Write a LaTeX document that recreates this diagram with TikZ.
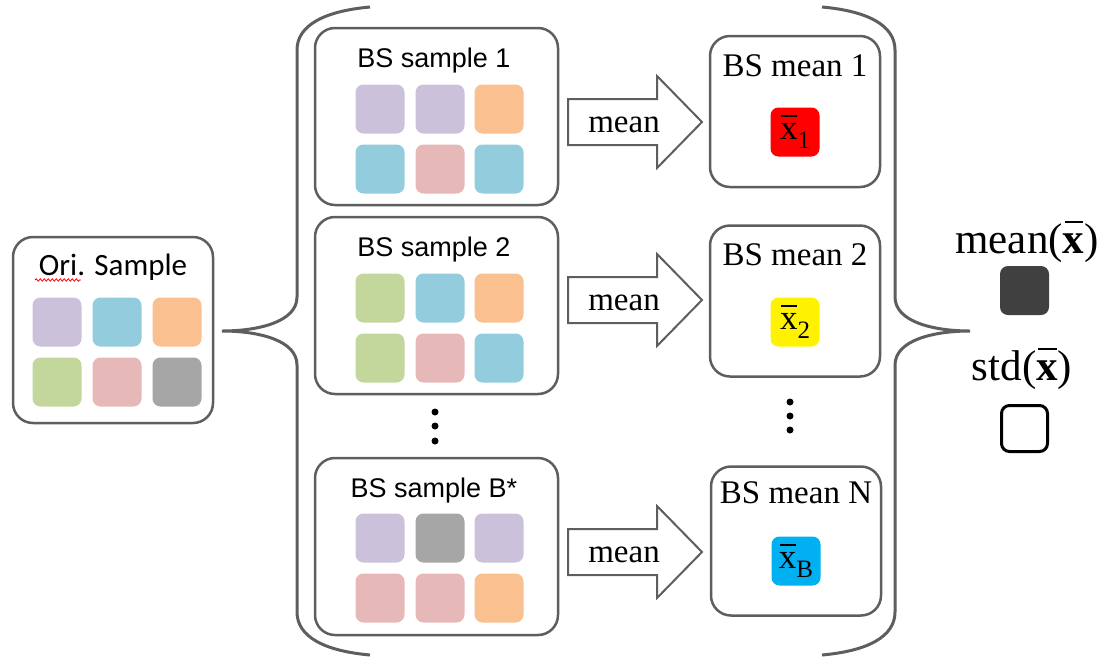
\documentclass[tikz,border=0pt]{standalone}
\usepackage{fontspec}
\setmainfont{Liberation Serif}
\newfontfamily\arialf{Liberation Sans}
\newfontfamily\calibrif{Carlito}
\usetikzlibrary{decorations.pathmorphing}

\definecolor{framegray}{HTML}{5E5E5E}
\definecolor{cpurple}{HTML}{CCC1DA}
\definecolor{caqua}{HTML}{93CDDD}
\definecolor{corange}{HTML}{FAC090}
\definecolor{cgreen}{HTML}{C3D69B}
\definecolor{cpink}{HTML}{E6B9B8}
\definecolor{cgray}{HTML}{A6A6A6}
\definecolor{cdark}{HTML}{404040}
\definecolor{cblue}{HTML}{00B0F0}

% bar-x with a subscript, set in the serif text font
\newcommand\xbarsub[1]{\makebox[0pt][l]{\hspace{0.03em}\raisebox{0.66em}{\rule{0.45em}{1.5pt}}}x\raisebox{-9pt}{\fontsize{25}{25}\selectfont #1}}
\newcommand\xbarbold{\makebox[0pt][l]{\hspace{0.04em}\raisebox{0.7em}{\rule{0.44em}{2pt}}}\textbf{x}}

\tikzset{
  frame/.style={draw=framegray, line width=2.5pt, rounded corners=20pt, fill=white},
  cell/.style={rounded corners=8pt, minimum size=49pt, inner sep=0pt},
  meancell/.style={rounded corners=8pt, minimum size=49pt, inner sep=0pt,
                   font=\fontsize{35}{37}\selectfont},
  brace/.style={draw=framegray, line width=3pt},
  fatarrow/.style={draw=framegray, line width=2pt, fill=white},
  sampletitle/.style={anchor=base, inner sep=0pt, font=\arialf\fontsize{27}{30}\selectfont},
  meantitle/.style={anchor=base, inner sep=0pt, font=\fontsize{33}{36}\selectfont},
  label/.style={anchor=base, inner sep=0pt, font=\fontsize{43}{46}\selectfont},
  dot/.style={circle, fill=black, inner sep=0pt, minimum size=7pt},
}

\begin{document}
\begin{tikzpicture}[x=1pt, y=-1pt]
\useasboundingbox (0,0) rectangle (1111,657);

% ---------- original sample ----------
\node[frame, minimum width=200pt, minimum height=186pt] (ori) at (113,330) {};
\node[anchor=base, inner sep=0pt, font=\calibrif\fontsize{31}{34}\selectfont] (orititle) at (113,275) {Ori. Sample};
\draw[red, line width=0.8pt, decorate, decoration={snake, amplitude=1.2pt, segment length=4pt}]
  (35,280) -- (81,280);
\node[cell, fill=cpurple] (o11) at (57,322) {};
\node[cell, fill=caqua]   (o12) at (117,322) {};
\node[cell, fill=corange] (o13) at (177,322) {};
\node[cell, fill=cgreen]  (o21) at (57,382) {};
\node[cell, fill=cpink]   (o22) at (117,382) {};
\node[cell, fill=cgray]   (o23) at (177,382) {};

% ---------- left brace ----------
\coordinate (ltip) at (222,331);
\draw[brace] (370,7) .. controls (325,11) and (297,25) .. (297,50)
  -- (297,297) .. controls (297,322) and (258,331) .. (ltip)
  .. controls (258,331) and (297,340) .. (297,365)
  -- (297,612) .. controls (297,637) and (325,651) .. (370,655);

% ---------- bootstrap samples ----------
\node[frame, minimum width=243pt, minimum height=177pt] (s1) at (436.5,116.5) {};
\node[sampletitle] (s1t) at (434,67) {BS sample 1};
\node[cell, fill=cpurple] (s1a) at (380,109) {};
\node[cell, fill=cpurple] (s1b) at (440,109) {};
\node[cell, fill=corange] (s1c) at (499,109) {};
\node[cell, fill=caqua]   (s1d) at (380,169) {};
\node[cell, fill=cpink]   (s1e) at (440,169) {};
\node[cell, fill=caqua]   (s1f) at (499,169) {};

\node[frame, minimum width=243pt, minimum height=177pt] (s2) at (436.5,305.5) {};
\node[sampletitle] (s2t) at (434,256) {BS sample 2};
\node[cell, fill=cgreen]  (s2a) at (380,298) {};
\node[cell, fill=caqua]   (s2b) at (440,298) {};
\node[cell, fill=corange] (s2c) at (499,298) {};
\node[cell, fill=cgreen]  (s2d) at (380,358) {};
\node[cell, fill=cpink]   (s2e) at (440,358) {};
\node[cell, fill=caqua]   (s2f) at (499,358) {};

\node[dot] (ld1) at (435,412) {};
\node[dot] (ld2) at (435,426) {};
\node[dot] (ld3) at (435,441) {};

\node[frame, minimum width=243pt, minimum height=177pt] (s3) at (436.5,546.5) {};
\node[sampletitle] (s3t) at (434,497) {BS sample B*};
\node[cell, fill=cpurple] (s3a) at (380,538) {};
\node[cell, fill=cgray]   (s3b) at (440,538) {};
\node[cell, fill=cpurple] (s3c) at (499,538) {};
\node[cell, fill=cpink]   (s3d) at (380,598) {};
\node[cell, fill=cpink]   (s3e) at (440,598) {};
\node[cell, fill=corange] (s3f) at (499,598) {};

% ---------- block arrows labelled "mean" ----------
\foreach \c/\n in {122/1, 300/2, 552/3} {
  \draw[fatarrow] (568,\c-23) -- (657,\c-23) -- (657,\c-46) -- (702,\c)
    -- (657,\c+46) -- (657,\c+23) -- (568,\c+23) -- cycle;
  \node[meantitle] (arr\n) at (624,\c+10) {mean};
}

% ---------- bootstrap means ----------
\node[frame, minimum width=170pt, minimum height=151pt] (m1) at (795,111.5) {};
\node[meantitle] (m1t) at (795,76) {BS mean 1};
\node[meancell, fill=red] (m1x) at (795,132) {\xbarsub{1}};

\node[frame, minimum width=170pt, minimum height=151pt] (m2) at (795,301) {};
\node[meantitle] (m2t) at (795,265) {BS mean 2};
\node[meancell, fill=yellow] (m2x) at (795,322) {\xbarsub{2}};

\node[dot] (rd1) at (790,402) {};
\node[dot] (rd2) at (790,416) {};
\node[dot] (rd3) at (790,430) {};

\node[frame, minimum width=170pt, minimum height=149pt] (m3) at (796,541) {};
\node[meantitle] (m3t) at (796,503) {BS mean N};
\node[meancell, fill=cblue] (m3x) at (796,561) {\xbarsub{B}};

% ---------- right brace ----------
\coordinate (rtip) at (970,331);
\draw[brace] (822,7) .. controls (867,11) and (895,25) .. (895,50)
  -- (895,297) .. controls (895,322) and (934,331) .. (rtip)
  .. controls (934,331) and (895,340) .. (895,365)
  -- (895,612) .. controls (895,637) and (867,651) .. (822,655);

% ---------- summary statistics ----------
\node[label] (meanlab) at (1027,253) {mean(\xbarbold)};
\node[cell, fill=cdark] (meanbox) at (1024.5,290.5) {};
\node[label] (stdlab) at (1022,380) {std(\xbarbold)};
\node[cell, draw=black, line width=3pt, fill=white, minimum size=46pt] (stdbox) at (1024.5,428.5) {};
\end{tikzpicture}
\end{document}
